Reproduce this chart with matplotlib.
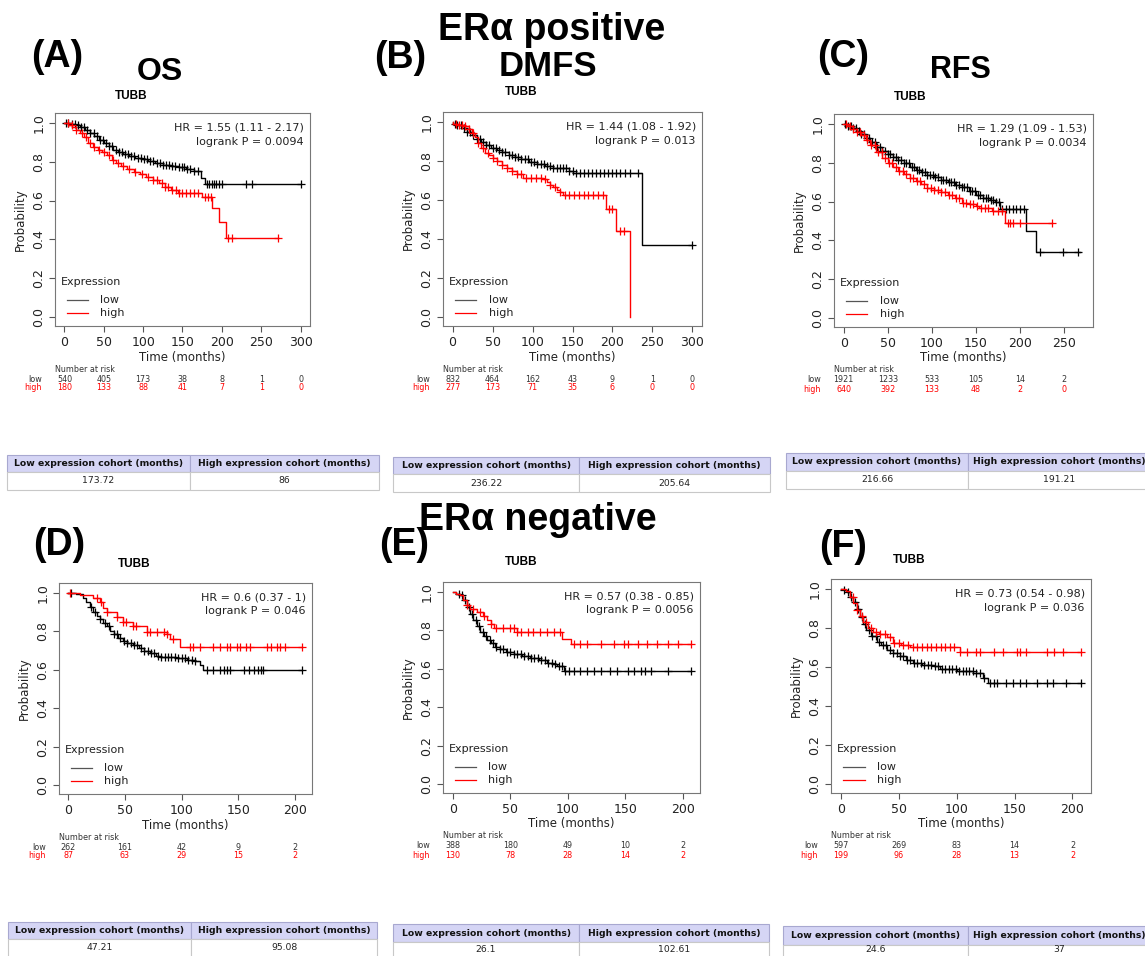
"""
TUBB Kaplan-Meier panels, ERa positive / ERa negative (A-F)
Generates: out.png
"""
import matplotlib
matplotlib.use('Agg')
import matplotlib.pyplot as plt
import matplotlib.transforms as mtransforms
from matplotlib.patches import Rectangle
import numpy as np

W, H = 1145, 956
BIG = ['Liberation Sans Narrow', 'Liberation Sans']

# === data ===
# (A) OS, ERa positive
A_low_t = [0, 8, 14, 20, 26, 32, 38, 44, 50, 56, 62, 68, 75, 82, 90, 98, 106, 115, 125, 135, 145, 155, 165, 173, 178, 300]
A_low_s = [1.0, 0.995, 0.988, 0.978, 0.965, 0.948, 0.93, 0.912, 0.895, 0.878, 0.862, 0.85, 0.838, 0.828, 0.82, 0.811, 0.802, 0.794, 0.785, 0.777, 0.77, 0.762, 0.752, 0.717, 0.683, 0.683]
A_low_c = [2, 5, 9, 13, 17, 21, 25, 29, 33, 37, 41, 45, 49, 53, 57, 61, 65, 69, 73, 77, 81, 85, 89, 93, 97, 101, 105, 109, 113, 117, 121, 125, 129, 133, 137, 141, 145, 149, 152, 156, 160, 165, 170, 181, 184, 187, 190, 193, 196, 200, 231, 238, 300]
A_high_t = [0, 5, 10, 15, 20, 25, 30, 36, 42, 48, 54, 60, 66, 72, 80, 88, 96, 104, 112, 120, 128, 136, 144, 175, 188, 196, 205, 271]
A_high_s = [1.0, 0.99, 0.98, 0.965, 0.948, 0.925, 0.895, 0.875, 0.86, 0.848, 0.835, 0.81, 0.795, 0.78, 0.762, 0.748, 0.735, 0.72, 0.705, 0.688, 0.668, 0.655, 0.64, 0.618, 0.562, 0.49, 0.405, 0.405]
A_high_c = [4, 9, 15, 22, 28, 33, 38, 44, 50, 56, 62, 68, 75, 82, 90, 98, 106, 112, 118, 124, 128, 132, 137, 142, 146, 150, 155, 160, 165, 170, 178, 182, 186, 208, 213, 271]
A_risk_low = [540, 405, 173, 38, 8, 1, 0]
A_risk_high = [180, 133, 88, 41, 7, 1, 0]

# (B) DMFS, ERa positive
B_low_t = [0, 1, 6, 12, 18, 24, 30, 36, 42, 48, 55, 62, 70, 78, 86, 95, 105, 115, 125, 138, 145, 151, 236.5, 300]
B_low_s = [1.0, 0.99, 0.985, 0.968, 0.95, 0.93, 0.91, 0.895, 0.88, 0.866, 0.855, 0.845, 0.832, 0.82, 0.808, 0.795, 0.782, 0.772, 0.765, 0.762, 0.75, 0.736, 0.369, 0.369]
B_low_c = [3, 6, 10, 14, 18, 22, 26, 30, 34, 38, 42, 46, 50, 54, 58, 62, 66, 70, 74, 78, 82, 86, 90, 94, 98, 102, 106, 110, 114, 118, 122, 126, 130, 134, 138, 142, 146, 150, 155, 160, 165, 170, 175, 180, 185, 190, 195, 200, 205, 210, 216, 222, 232, 300]
B_high_t = [0, 1, 8, 16, 20, 24, 28, 32, 36, 40, 45, 50, 56, 62, 68, 74, 80, 88, 113, 118, 122, 126, 130, 134, 138, 191.5, 204.4, 222]
B_high_s = [1.0, 0.99, 0.985, 0.98, 0.965, 0.945, 0.92, 0.89, 0.865, 0.842, 0.83, 0.815, 0.8, 0.778, 0.765, 0.75, 0.735, 0.714, 0.707, 0.69, 0.677, 0.665, 0.652, 0.64, 0.626, 0.556, 0.441, 0.0]
B_high_c = [4, 8, 12, 16, 21, 26, 32, 38, 44, 50, 56, 62, 68, 74, 80, 86, 92, 98, 104, 110, 116, 122, 128, 134, 140, 146, 152, 158, 164, 170, 176, 182, 188, 196, 200, 210, 215]
B_risk_low = [832, 464, 162, 43, 9, 1, 0]
B_risk_high = [277, 173, 71, 35, 6, 0, 0]

# (C) RFS, ERa positive
C_low_t = [0, 5, 10, 15, 20, 25, 30, 37, 44, 50, 56, 62, 68, 75, 82, 88, 94, 102, 110, 118, 126, 134, 142, 150, 158, 166, 172, 177, 207, 218.6, 268]
C_low_s = [1.0, 0.99, 0.978, 0.965, 0.945, 0.925, 0.905, 0.88, 0.86, 0.843, 0.829, 0.812, 0.796, 0.778, 0.762, 0.75, 0.738, 0.725, 0.712, 0.7, 0.686, 0.673, 0.655, 0.632, 0.62, 0.61, 0.6, 0.564, 0.448, 0.338, 0.338]
C_low_c = [2, 5, 8, 11, 14, 17, 20, 23, 26, 29, 32, 35, 38, 41, 44, 47, 50, 53, 56, 59, 62, 65, 68, 71, 74, 77, 80, 83, 86, 89, 92, 95, 98, 101, 104, 107, 110, 113, 116, 119, 122, 125, 128, 131, 134, 137, 140, 143, 146, 149, 152, 155, 158, 161, 164, 167, 170, 173, 176, 180, 184, 188, 192, 196, 200, 205, 223, 249, 266]
C_high_t = [0, 5, 10, 15, 20, 25, 30, 37, 44, 50, 56, 62, 68, 75, 82, 88, 94, 102, 110, 118, 126, 134, 142, 150, 154, 168, 183, 236]
C_high_s = [1.0, 0.99, 0.975, 0.96, 0.94, 0.915, 0.89, 0.855, 0.825, 0.8, 0.778, 0.758, 0.74, 0.723, 0.705, 0.69, 0.672, 0.66, 0.648, 0.636, 0.62, 0.595, 0.585, 0.578, 0.565, 0.552, 0.492, 0.492]
C_high_c = [3, 7, 11, 15, 19, 23, 27, 31, 35, 39, 43, 47, 51, 55, 59, 63, 67, 71, 75, 79, 83, 87, 91, 95, 99, 103, 107, 111, 115, 119, 123, 127, 131, 135, 139, 143, 147, 151, 156, 160, 164, 170, 175, 180, 186, 189, 192, 200, 236]
C_risk_low = [1921, 1233, 533, 105, 14, 2]
C_risk_high = [640, 392, 133, 48, 2, 0]

# (D) OS, ERa negative
D_low_t = [0, 7, 13, 16, 19, 22, 25, 28, 31, 34, 37, 40, 44, 48, 52, 57, 62, 67, 72, 77, 81, 95, 105, 112, 116, 119, 206]
D_low_s = [1.0, 0.995, 0.974, 0.95, 0.923, 0.9, 0.88, 0.863, 0.845, 0.825, 0.803, 0.785, 0.765, 0.75, 0.74, 0.726, 0.712, 0.698, 0.685, 0.672, 0.666, 0.66, 0.652, 0.645, 0.623, 0.6, 0.6]
D_low_c = [2, 20, 24, 28, 32, 36, 40, 43, 46, 49, 52, 55, 58, 61, 64, 67, 70, 73, 76, 79, 82, 85, 88, 91, 94, 97, 100, 103, 106, 109, 112, 122, 128, 134, 137, 140, 143, 155, 159, 164, 167, 170, 172, 206]
D_high_t = [0, 10, 22, 28, 31, 34, 42.6, 48.5, 57, 69, 87, 90, 98.5, 206]
D_high_s = [1.0, 0.99, 0.974, 0.949, 0.92, 0.897, 0.871, 0.846, 0.828, 0.794, 0.786, 0.76, 0.717, 0.717]
D_high_c = [1.5, 25, 29, 34, 42.6, 48.5, 51, 57, 60, 69, 72, 78, 84, 87, 92.6, 107, 110, 116, 128, 134, 140, 143, 148.5, 151.5, 157, 160, 175, 179, 184, 187, 191, 206]
D_risk_low = [262, 161, 42, 9, 2]
D_risk_high = [87, 63, 29, 15, 2]

# (E) DMFS, ERa negative
E_low_t = [0, 3, 6, 9, 12, 15, 18, 21, 24, 27, 30, 33, 37, 41, 46, 53, 60, 67.5, 75, 82, 87, 91, 96.7, 207]
E_low_s = [1.0, 0.99, 0.98, 0.955, 0.92, 0.885, 0.852, 0.822, 0.793, 0.77, 0.75, 0.733, 0.715, 0.7, 0.688, 0.674, 0.665, 0.657, 0.645, 0.632, 0.622, 0.615, 0.589, 0.589]
E_low_c = [5, 8, 11, 14, 17, 20, 23, 26, 29, 32, 35, 38, 41, 44, 47, 50, 53, 56, 59, 62, 65, 68, 71, 74, 77, 80, 83, 86, 89, 92, 95, 98, 101, 105, 111, 117, 123, 129, 137, 143, 152, 158, 164, 167, 172, 187, 207]
E_high_t = [0, 3, 6, 9, 12, 15, 21, 26, 29.7, 33, 35.5, 56, 95, 102.5, 207]
E_high_s = [1.0, 0.99, 0.98, 0.955, 0.929, 0.91, 0.895, 0.872, 0.852, 0.83, 0.81, 0.788, 0.756, 0.728, 0.728]
E_high_c = [12, 18, 24, 27, 33, 38, 44, 50, 53, 56, 59, 65, 70, 76, 82, 88, 93, 105, 111, 117, 129, 140, 149, 152, 161, 169, 178, 187, 196, 207]
E_risk_low = [388, 180, 49, 10, 2]
E_risk_high = [130, 78, 28, 14, 2]

# (F) RFS, ERa negative
F_low_t = [0, 3, 5, 8, 10.7, 13.5, 16.4, 19, 22, 26, 31, 35, 39.5, 45, 51, 56, 62.5, 70, 80, 85.6, 100, 114.4, 123, 127.4, 207]
F_low_s = [1.0, 0.993, 0.983, 0.96, 0.933, 0.895, 0.857, 0.82, 0.789, 0.76, 0.73, 0.71, 0.688, 0.67, 0.654, 0.638, 0.621, 0.612, 0.604, 0.587, 0.58, 0.57, 0.545, 0.518, 0.518]
F_low_c = [3, 6, 9, 12, 15, 18, 21, 24, 27, 30, 33, 36, 39, 42, 45, 48, 51, 54, 57, 60, 63, 66, 69, 72, 75, 78, 81, 84, 87, 90, 93, 96, 99, 102, 105, 108, 111, 114, 117, 120, 124, 129, 132, 135, 143, 149, 155, 160, 169, 178, 183, 194, 207]
F_high_t = [0, 4, 7.8, 10.5, 13.5, 16.5, 19.3, 23, 28, 33, 39.5, 45, 52, 59.7, 103, 207]
F_high_s = [1.0, 0.99, 0.958, 0.925, 0.89, 0.86, 0.831, 0.8, 0.78, 0.77, 0.755, 0.722, 0.712, 0.702, 0.676, 0.676]
F_high_c = [10, 14, 18, 22, 26, 30, 34, 38, 42, 46, 50, 54, 58, 62, 66, 70, 74, 78, 82, 86, 90, 94, 98, 103, 109, 117, 120, 132, 140, 152, 155, 160, 178, 184, 192, 207]
F_risk_low = [597, 269, 83, 14, 2]
F_risk_high = [199, 96, 28, 13, 2]

ticks_300 = [0, 50, 100, 150, 200, 250, 300]
ticks_250 = [0, 50, 100, 150, 200, 250]
ticks_200 = [0, 50, 100, 150, 200]

hr_text = {
    'A': ('HR = 1.55 (1.11 - 2.17)', 'logrank P = 0.0094'),
    'B': ('HR = 1.44 (1.08 - 1.92)', 'logrank P = 0.013'),
    'C': ('HR = 1.29 (1.09 - 1.53)', 'logrank P = 0.0034'),
    'D': ('HR = 0.6 (0.37 - 1)', 'logrank P = 0.046'),
    'E': ('HR = 0.57 (0.38 - 0.85)', 'logrank P = 0.0056'),
    'F': ('HR = 0.73 (0.54 - 0.98)', 'logrank P = 0.036'),
}
median_low = {'A': '173.72', 'B': '236.22', 'C': '216.66', 'D': '47.21', 'E': '26.1', 'F': '24.6'}
median_high = {'A': '86', 'B': '205.64', 'C': '191.21', 'D': '95.08', 'E': '102.61', 'F': '37'}

# === layout in pixels ===
# box: left, top, right, bottom ; xlim ; TUBB title position
layout = {
    'A': ((55, 113, 310, 326), (-12, 312), (131, 96)),
    'B': ((443, 112, 702, 326), (-12, 312), (521, 92)),
    'C': ((834, 114, 1093, 327), (-11, 283), (910, 97)),
    'D': ((59, 583, 312, 794), (-8.2, 215), (134, 564)),
    'E': ((443, 582, 700, 793), (-8.5, 215), (521, 562)),
    'F': ((831, 579, 1091, 793), (-8.6, 216), (909, 560)),
}
# table: left, top, divider, right, header bottom, bottom
tables = {
    'A': (7, 455, 190, 379, 472, 490),
    'B': (393, 457, 579, 770, 474, 492),
    'C': (786, 453, 968, 1150, 471, 489),
    'D': (8, 922, 191, 377, 939, 957),
    'E': (393, 924, 579, 769, 942, 960),
    'F': (783, 926, 968, 1150, 945, 963),
}

fig = plt.figure(figsize=(W / 100, H / 100), dpi=100)


def fx(x):
    return x / W


def fy(y):
    return 1 - y / H


def at(t, s, c):
    idx = np.searchsorted(t, c, side='right') - 1
    return np.asarray(s)[idx]


def km_panel(key, low, high, ticks, risk_low, risk_high):
    (l, t, r, b), xlim, (tx, ty) = layout[key]
    ax = fig.add_axes([fx(l), fy(b), (r - l) / W, (b - t) / H])
    for (tt, ss, cc), col in [(low, 'black'), (high, 'red')]:
        ax.plot(tt, ss, drawstyle='steps-post', color=col, lw=1.0)
        ax.plot(cc, at(tt, ss, cc), ls='none', marker='+', ms=6, mew=0.9, color=col)
    ax.set_xlim(*xlim)
    ax.set_ylim(-0.045, 1.05)
    ax.set_xticks(ticks)
    ax.set_yticks([0, 0.2, 0.4, 0.6, 0.8, 1.0])
    ax.set_yticklabels(['0.0', '0.2', '0.4', '0.6', '0.8', '1.0'], rotation=90, va='center')
    ax.tick_params(direction='out', length=4, pad=3, labelsize=9, colors='#555555', labelcolor='#222222', width=0.8)
    for sp in ax.spines.values():
        sp.set_color('#777777')
        sp.set_linewidth(0.8)

    hr, lp = hr_text[key]
    ax.text(0.976, 0.933, hr, transform=ax.transAxes, ha='right', va='center', fontsize=8, color='#222222')
    ax.text(0.976, 0.865, lp, transform=ax.transAxes, ha='right', va='center', fontsize=8, color='#222222')

    # legend
    ax.text(0.024, 0.207, 'Expression', transform=ax.transAxes, ha='left', va='center', fontsize=8, color='#222222')
    ax.plot([0.046, 0.129], [0.122, 0.122], transform=ax.transAxes, color='#555555', lw=0.9)
    ax.plot([0.046, 0.129], [0.061, 0.061], transform=ax.transAxes, color='red', lw=0.9)
    ax.text(0.176, 0.122, 'low', transform=ax.transAxes, ha='left', va='center', fontsize=8, color='#222222')
    ax.text(0.176, 0.061, 'high', transform=ax.transAxes, ha='left', va='center', fontsize=8, color='#222222')

    fig.text(fx((l + r) / 2), fy(b + 31), 'Time (months)', ha='center', va='center', fontsize=8.5, color='#222222')
    fig.text(fx(l - 35), fy((t + b) / 2), 'Probability', ha='center', va='center', rotation=90, fontsize=8.5, color='#222222')
    fig.text(fx(tx), fy(ty), 'TUBB', ha='center', va='center', fontsize=8.5, fontweight='bold', family='Liberation Sans')

    # number at risk
    tr = mtransforms.blended_transform_factory(ax.transData, fig.transFigure)
    fig.text(fx(l), fy(b + 43), 'Number at risk', ha='left', va='center', fontsize=5.8, color='#333333')
    fig.text(fx(l - 13), fy(b + 53), 'low', ha='right', va='center', fontsize=5.8, color='#333333')
    fig.text(fx(l - 13), fy(b + 62), 'high', ha='right', va='center', fontsize=5.8, color='red')
    for x, n1, n2 in zip(ticks, risk_low, risk_high):
        ax.text(x, fy(b + 53), str(n1), transform=tr, ha='center', va='center', fontsize=5.8, color='#333333')
        ax.text(x, fy(b + 62), str(n2), transform=tr, ha='center', va='center', fontsize=5.8, color='red')
    return ax


km_panel('A', (A_low_t, A_low_s, A_low_c), (A_high_t, A_high_s, A_high_c), ticks_300, A_risk_low, A_risk_high)
km_panel('B', (B_low_t, B_low_s, B_low_c), (B_high_t, B_high_s, B_high_c), ticks_300, B_risk_low, B_risk_high)
km_panel('C', (C_low_t, C_low_s, C_low_c), (C_high_t, C_high_s, C_high_c), ticks_250, C_risk_low, C_risk_high)
km_panel('D', (D_low_t, D_low_s, D_low_c), (D_high_t, D_high_s, D_high_c), ticks_200, D_risk_low, D_risk_high)
km_panel('E', (E_low_t, E_low_s, E_low_c), (E_high_t, E_high_s, E_high_c), ticks_200, E_risk_low, E_risk_high)
km_panel('F', (F_low_t, F_low_s, F_low_c), (F_high_t, F_high_s, F_high_c), ticks_200, F_risk_low, F_risk_high)

# === median survival tables ===
for key, (l, t, d, r, hb, b) in tables.items():
    for x0, x1, txt in [(l, d, 'Low expression cohort (months)'), (d, r, 'High expression cohort (months)')]:
        fig.add_artist(Rectangle((fx(x0), fy(hb)), (x1 - x0) / W, (hb - t) / H, transform=fig.transFigure,
                                 facecolor='#d5d5f5', edgecolor='#a8a8d0', lw=0.8))
        fig.text(fx((x0 + x1) / 2), fy((t + hb) / 2), txt, ha='center', va='center',
                 fontsize=6.7, fontweight='bold', color='#111111')
    yv = min((hb + b) / 2, 949)
    for x0, x1, txt in [(l, d, median_low[key]), (d, r, median_high[key])]:
        fig.add_artist(Rectangle((fx(x0), fy(b)), (x1 - x0) / W, (b - hb) / H, transform=fig.transFigure,
                                 facecolor='white', edgecolor='#c8c8c8', lw=0.8))
        fig.text(fx((x0 + x1) / 2), fy(yv), txt, ha='center', va='center', fontsize=6.7, color='#222222')

# === panel letters and headings ===
for lab, x, y in [('(A)', 57, 57), ('(B)', 400, 58), ('(C)', 843, 57),
                  ('(D)', 59, 545), ('(E)', 404, 545), ('(F)', 843, 547)]:
    fig.text(fx(x), fy(y), lab, ha='center', va='center', fontsize=27, fontweight='bold', family=BIG)
fig.text(fx(552), fy(30), 'ERα positive', ha='center', va='center', fontsize=27, fontweight='bold', family=BIG)
fig.text(fx(538), fy(520), 'ERα negative', ha='center', va='center', fontsize=27, fontweight='bold', family=BIG)
fig.text(fx(160), fy(72), 'OS', ha='center', va='center', fontsize=23, fontweight='bold', family=BIG)
fig.text(fx(548), fy(67), 'DMFS', ha='center', va='center', fontsize=25, fontweight='bold', family=BIG)
fig.text(fx(960), fy(70), 'RFS', ha='center', va='center', fontsize=22, fontweight='bold', family=BIG)

fig.savefig('out.png', dpi=100)
plt.close()
print("done")
